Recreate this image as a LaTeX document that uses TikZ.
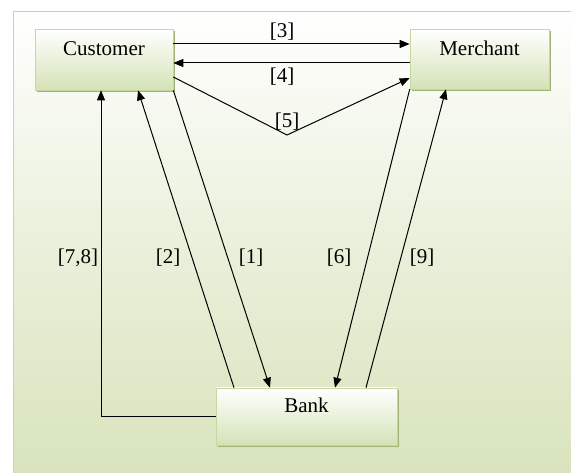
\documentclass[tikz,border=0pt]{standalone}
\usepackage{fontspec}
\setmainfont{Liberation Serif}
\usetikzlibrary{arrows.meta,shadows}

\definecolor{boxgreen}{RGB}{212,226,182}
\definecolor{bggreen}{RGB}{215,227,187}
\definecolor{framegreen}{RGB}{200,214,163}
\definecolor{shadowgreen}{RGB}{160,178,118}

\begin{document}
\begin{tikzpicture}[x=1pt, y=-1pt, font=\fontsize{21}{24}\selectfont,
        party/.style={draw=framegreen, line width=0.6pt, inner sep=0pt,
            top color=white, bottom color=boxgreen,
            drop shadow={shadow xshift=1.8pt, shadow yshift=-1.8pt,
                fill=shadowgreen, opacity=1}},
        msg/.style={line width=1pt, -{Triangle[length=10pt,width=8pt]}},
        tag/.style={inner sep=1pt}]
    \useasboundingbox (0,0) rectangle (571,473);
    \shade[draw=framegreen, line width=0.8pt, top color=white,
        bottom color=bggreen, middle color=white!45!bggreen] (13,11) rectangle (590,490);

    \node[party, minimum width=138pt, text height=27pt, text depth=34pt] (cust) at (104,59.5) {Customer};
    \node[party, minimum width=139pt, text height=27pt, text depth=33pt] (merch) at (479.5,59) {Merchant};
    \node[party, minimum width=181pt, text height=25pt, text depth=32pt] (bank) at (306.5,416.5) {Bank};

    \draw[msg] ([yshift=15.5pt]cust.east) -- ([yshift=15pt]merch.west);
    \draw[msg] ([yshift=-4pt]merch.west) -- ([yshift=-3.5pt]cust.east);
    \coordinate (v5) at (287,135);
    \draw[msg] ([yshift=-17.5pt]cust.east) -- (v5) -- ([yshift=-19pt]merch.west);

    \draw[msg] (bank.west) -| ([xshift=-3pt]cust.south);
    \draw[msg] ([xshift=-72.5pt]bank.north) -- ([xshift=34pt]cust.south);
    \draw[msg] (cust.south east) -- ([xshift=-36.5pt]bank.north);
    \draw[msg] (merch.south west) -- ([xshift=28.5pt]bank.north);
    \draw[msg] ([xshift=59.5pt]bank.north) -- ([xshift=-33.5pt]merch.south);

    \node[tag] (l3) at (282,32) {[3]};
    \node[tag] (l4) at (282,77) {[4]};
    \node[tag] (l5) at (287,122) {[5]};
    \node[tag] (l78) at (78,258) {[7,8]};
    \node[tag] (l2) at (168,258) {[2]};
    \node[tag] (l1) at (251,258) {[1]};
    \node[tag] (l6) at (339,258) {[6]};
    \node[tag] (l9) at (422,258) {[9]};
\end{tikzpicture}
\end{document}
